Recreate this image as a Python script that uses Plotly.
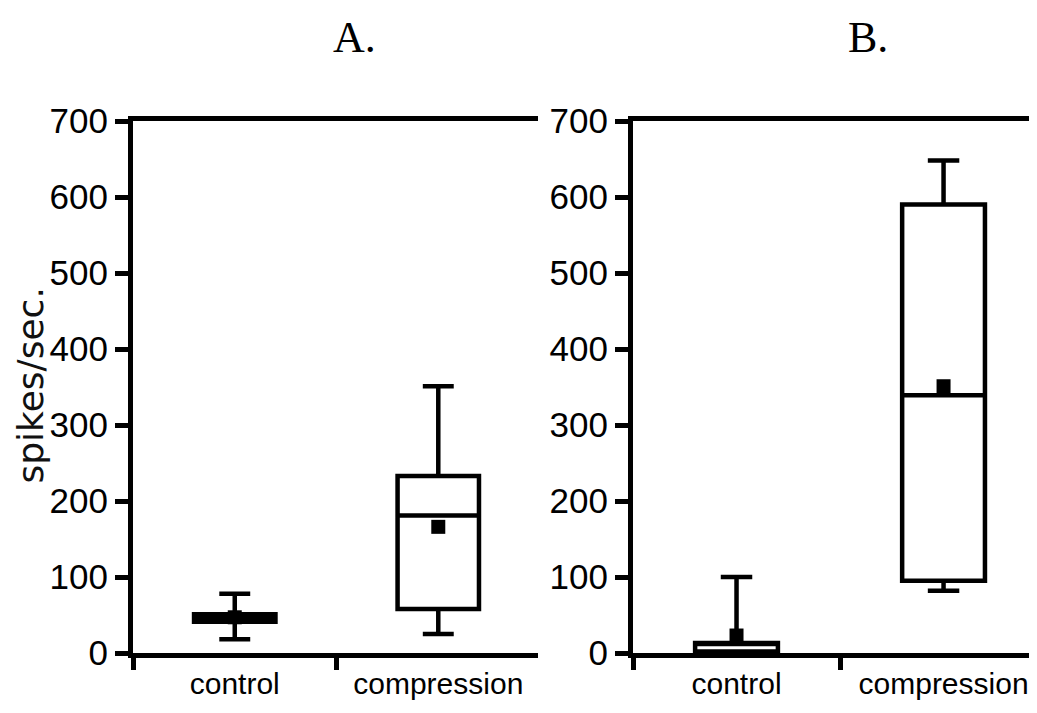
import plotly.graph_objects as go

categories = ["control", "compression"]

# Panel A
a_q1 = [41, 58]
a_median = [46, 181]
a_q3 = [51, 233]
a_lower = [18, 25]
a_upper = [78, 351]
a_mean = [47, 166]

# Panel B
b_q1 = [2, 95]
b_median = [12, 339]
b_q3 = [13, 590]
b_lower = [2, 82]
b_upper = [100, 648]
b_mean = [23, 351]

y_ticks = [0, 100, 200, 300, 400, 500, 600, 700]
panel_titles = ["A.", "B."]
y_title = "spikes/sec."

YTICK_FONT = dict(family="Liberation Sans, Arial, sans-serif", size=35, color="black")
XTICK_FONT = dict(family="Liberation Sans, Arial, sans-serif", size=30, color="black")

fig = go.Figure()

def add_panel(xa, ya, q1, med, q3, lo, hi, mean):
    fig.add_trace(go.Box(
        x=categories, q1=q1, median=med, q3=q3, lowerfence=lo, upperfence=hi,
        xaxis=xa, yaxis=ya, width=0.4, whiskerwidth=0.38,
        fillcolor="white", line=dict(color="black", width=4.5),
        boxpoints=False, showlegend=False, hoverinfo="skip",
    ))
    fig.add_trace(go.Scatter(
        x=categories, y=mean, xaxis=xa, yaxis=ya, mode="markers",
        marker=dict(symbol="square", size=14, color="black"),
        showlegend=False, hoverinfo="skip", cliponaxis=False,
    ))

add_panel("x", "y", a_q1, a_median, a_q3, a_lower, a_upper, a_mean)
add_panel("x2", "y2", b_q1, b_median, b_q3, b_lower, b_upper, b_mean)

xcommon = dict(
    type="category", categoryorder="array", categoryarray=categories,
    tickson="boundaries", ticks="outside", ticklen=12, tickwidth=5, tickcolor="black",
    showline=True, linewidth=5, linecolor="black", mirror=True, tickangle=0,
    showgrid=False, zeroline=False, tickfont=XTICK_FONT, range=[-0.5, 1.49],
)
ycommon = dict(
    range=[0, 700], tickvals=y_ticks, ticks="outside", ticklen=13, tickwidth=5,
    tickcolor="black", showline=True, linewidth=5, linecolor="black",
    showgrid=False, zeroline=False, tickfont=YTICK_FONT,
)

PLOT_TOP, PLOT_BOTTOM = 113, 645
def py(pix):
    return (PLOT_BOTTOM - pix) / (PLOT_BOTTOM - PLOT_TOP)

title_font = dict(family="Liberation Serif, serif", size=44, color="black")

fig.update_layout(
    width=1037, height=713,
    margin=dict(l=0, r=0, t=PLOT_TOP, b=713 - PLOT_BOTTOM, autoexpand=False),
    paper_bgcolor="white", plot_bgcolor="white",
    xaxis=dict(domain=[125 / 1037, 530 / 1037], anchor="y", **xcommon),
    xaxis2=dict(domain=[625 / 1037, 1.0], anchor="y2", **xcommon),
    yaxis=dict(anchor="x", **ycommon),
    yaxis2=dict(anchor="x2", **ycommon),
    annotations=[
        dict(text=panel_titles[0], x=346 / 1037, y=py(30), xref="paper", yref="paper",
             showarrow=False, xanchor="center", yanchor="middle", font=title_font),
        dict(text=panel_titles[1], x=860 / 1037, y=py(30), xref="paper", yref="paper",
             showarrow=False, xanchor="center", yanchor="middle", font=title_font),
        dict(text=y_title, x=0, y=py(378), xref="paper", yref="paper",
             showarrow=False, xanchor="left", yanchor="middle", textangle=-90,
             borderpad=0,
             font=dict(family="DejaVu Sans, Verdana, sans-serif", size=36, color="#111")),
    ],
)

fig.write_html("out.html")
